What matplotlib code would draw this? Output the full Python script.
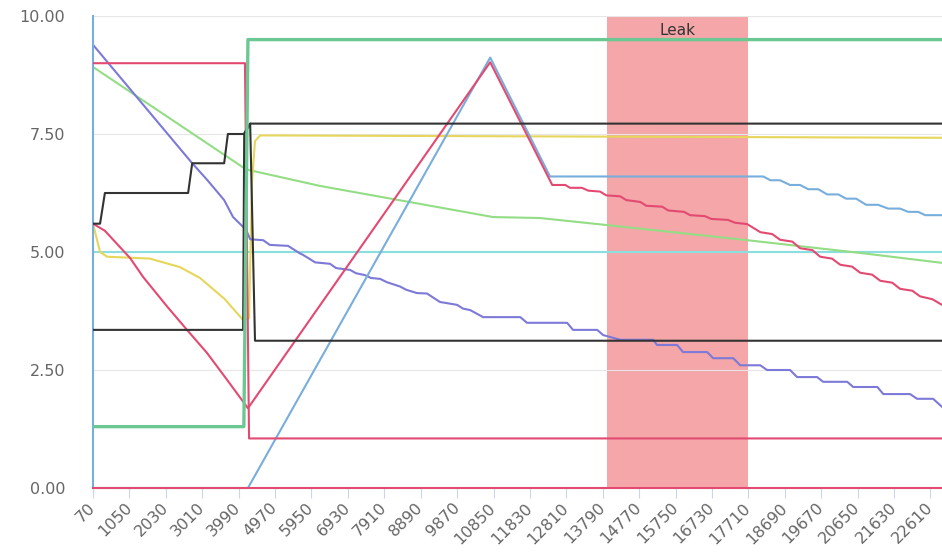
import matplotlib
matplotlib.use("Agg")
import matplotlib.pyplot as plt
from matplotlib.transforms import blended_transform_factory

# ---------------- data ----------------
x_ticks = [70, 1050, 2030, 3010, 3990, 4970, 5950, 6930, 7910, 8890, 9870,
           10850, 11830, 12810, 13790, 14770, 15750, 16730, 17710, 18690,
           19670, 20650, 21630, 22610]
y_ticks = [0.0, 2.5, 5.0, 7.5, 10.0]
y_labels = ["0.00", "2.50", "5.00", "7.50", "10.00"]
x_end = 22920

leak_start, leak_end = 13900, 17710
leak_label = "Leak"

# light blue
blue_x = [70, 70, 4240, 10760, 12370, 18110, 18300, 18560, 18830, 19100, 19320,
          19590, 19830, 20130, 20340, 20610, 20880, 21200, 21470, 21790, 22010,
          22280, 22470, 22920]
blue_y = [10.0, 0.0, 0.0, 9.12, 6.6, 6.6, 6.52, 6.52, 6.42, 6.42, 6.33,
          6.33, 6.22, 6.22, 6.13, 6.13, 6.0, 6.0, 5.92, 5.92, 5.85,
          5.85, 5.78, 5.78]

# pink (V shape, peak, stairs down)
pink_x = [70, 390, 1070, 1420, 2060, 2600, 3140, 3680, 4240, 10760, 12430,
          12780, 12910, 13230, 13400, 13720, 13880, 14260, 14420, 14800, 14960,
          15390, 15550, 15980, 16140, 16540, 16710, 17160, 17350, 17680, 18030,
          18350, 18560, 18890, 19100, 19430, 19640, 19960, 20180, 20500, 20720,
          21040, 21260, 21580, 21790, 22120, 22330, 22660, 22920]
pink_y = [5.6, 5.45, 4.87, 4.47, 3.85, 3.35, 2.86, 2.29, 1.69, 9.02, 6.42,
          6.42, 6.36, 6.36, 6.3, 6.28, 6.2, 6.18, 6.1, 6.06, 5.98,
          5.96, 5.88, 5.85, 5.78, 5.76, 5.7, 5.68, 5.62, 5.59, 5.42,
          5.38, 5.26, 5.22, 5.08, 5.04, 4.9, 4.86, 4.73, 4.69, 4.56,
          4.52, 4.39, 4.35, 4.22, 4.18, 4.06, 4.0, 3.88]

# pink (high, then low)
pink2_x = [70, 4160, 4270, 22920]
pink2_y = [9.0, 9.0, 1.05, 1.05]

# pink zero line
pink0_x = [70, 22920]
pink0_y = [0.0, 0.0]

# light green (slowly declining)
green_x = [70, 4190, 6180, 10840, 12100, 13910, 17680, 20720, 22920]
green_y = [8.92, 6.75, 6.4, 5.74, 5.72, 5.57, 5.25, 4.98, 4.77]

# green (low, then high)
green2_x = [70, 4130, 4240, 22920]
green2_y = [1.3, 1.3, 9.5, 9.5]

# black (stepping up)
black_x = [70, 260, 390, 2630, 2740, 3600, 3700, 4130, 4300, 22920]
black_y = [5.6, 5.6, 6.25, 6.25, 6.88, 6.88, 7.5, 7.5, 7.72, 7.72]

# black (low)
black2_x = [70, 4110, 4140, 4300, 4430, 22920]
black2_y = [3.35, 3.35, 7.5, 7.72, 3.12, 3.12]

# yellow
yellow_x = [70, 260, 450, 1600, 2410, 2950, 3620, 3840, 4110, 4270, 4350,
            4430, 4570, 22920]
yellow_y = [5.6, 5.0, 4.9, 4.86, 4.68, 4.45, 4.0, 3.8, 3.56, 3.6, 6.5,
            7.35, 7.47, 7.42]

# purple (declining stairs)
purple_x = [70, 2740, 3140, 3600, 3840, 4190, 4300, 4650, 4830, 5320, 5640,
            5720, 6050, 6450, 6610, 6990, 7150, 7390, 7550, 7800, 7980,
            8330, 8500, 8790, 9060, 9410, 9570, 9870, 10030, 10220, 10570,
            11570, 11750, 12830, 12990, 13640, 13800, 14260, 15150, 15250,
            15790, 15950, 16600, 16760, 17300, 17490, 18030, 18210, 18830,
            19020, 19560, 19720, 20370, 20530, 21180, 21340, 22060, 22250,
            22680, 22920]
purple_y = [9.39, 6.88, 6.53, 6.1, 5.74, 5.47, 5.27, 5.25, 5.15, 5.13, 4.97,
            4.94, 4.78, 4.75, 4.66, 4.62, 4.55, 4.51, 4.45, 4.43, 4.36,
            4.27, 4.2, 4.13, 4.12, 3.94, 3.92, 3.88, 3.8, 3.77, 3.62,
            3.62, 3.5, 3.5, 3.35, 3.35, 3.24, 3.14, 3.14, 3.03,
            3.03, 2.88, 2.88, 2.75, 2.75, 2.6, 2.6, 2.5, 2.5,
            2.35, 2.35, 2.25, 2.25, 2.14, 2.14, 1.99, 1.99, 1.89,
            1.89, 1.72]

# cyan (constant)
cyan_x = [70, 22920]
cyan_y = [5.0, 5.0]

# ---------------- figure ----------------
plt.rcParams["font.family"] = ["DejaVu Sans"]
fig = plt.figure(figsize=(9.42, 5.53), dpi=100)
ax = fig.add_axes([93 / 942, 65 / 553, 849 / 942, 472 / 553])
ax.set_xlim(70, x_end)
ax.set_ylim(0, 10)

ax.axvspan(leak_start, leak_end, color="#f4a6a8", zorder=0.2, lw=0)
ax.set_axisbelow(True)
ax.grid(axis="y", color="#e6e6e6", lw=0.8)
ax.grid(axis="x", visible=False)

lw = 1.5
ax.plot(cyan_x, cyan_y, color="#8adede", lw=lw, zorder=2)
ax.plot(green_x, green_y, color="#93dd84", lw=lw, zorder=2)
ax.plot(yellow_x, yellow_y, color="#e6d65a", lw=lw, zorder=2.1)
ax.plot(purple_x, purple_y, color="#7c79d8", lw=lw, zorder=2.2)
ax.plot(blue_x, blue_y, color="#78aedc", lw=lw, zorder=2.3, clip_on=False)
ax.plot(pink_x, pink_y, color="#e24a72", lw=lw, zorder=2.4)
ax.plot(pink2_x, pink2_y, color="#e24a72", lw=lw, zorder=2.4)
ax.plot(black2_x, black2_y, color="#333333", lw=lw, zorder=2.5)
ax.plot(black_x, black_y, color="#333333", lw=lw, zorder=2.5)
ax.plot(green2_x, green2_y, color="#6cc893", lw=2.4, zorder=2.6)
ax.plot(pink0_x, pink0_y, color="#e24a72", lw=lw, zorder=2.7, clip_on=False)

trans = blended_transform_factory(ax.transData, ax.transAxes)
ax.text((leak_start + leak_end) / 2, 0.986, leak_label, transform=trans,
        ha="center", va="top", fontsize=11, color="#333333", zorder=5)

for s in ax.spines.values():
    s.set_visible(False)

ax.set_yticks(y_ticks)
ax.set_yticklabels(y_labels)
ax.tick_params(axis="y", length=0, pad=20, labelsize=11.5, labelcolor="#666666")

ax.set_xticks(x_ticks)
ax.set_xticklabels([str(v) for v in x_ticks])
ax.tick_params(axis="x", length=7, width=0.8, color="#ccd6eb", pad=5.5,
               labelsize=11.5, labelcolor="#666666")
for lbl in ax.get_xticklabels():
    lbl.set_rotation(45)
    lbl.set_ha("right")
    lbl.set_va("center")
    lbl.set_rotation_mode("anchor")

fig.savefig("out.png", dpi=100, facecolor="white")
